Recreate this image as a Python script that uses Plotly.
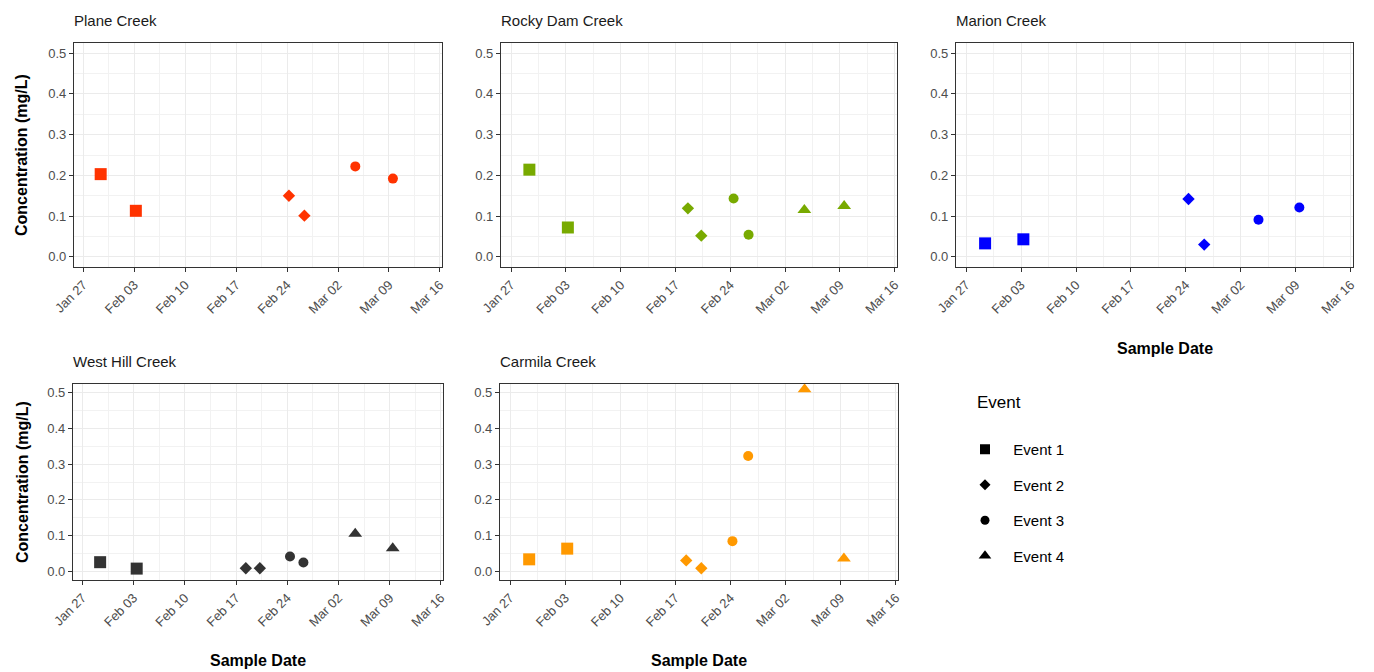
import plotly.graph_objects as go

# ---------------- data ----------------
sites = ["Plane Creek", "Rocky Dam Creek", "Marion Creek", "West Hill Creek", "Carmila Creek"]
site_colors = ["#FF3300", "#78AA00", "#0000FF", "#333333", "#FF9900"]
events = ["Event 1", "Event 2", "Event 3", "Event 4"]
event_symbols = ["square", "diamond", "circle", "triangle-up"]

plane_dates = ["2020-01-29 09:00", "2020-02-03 05:00", "2020-02-24 06:00", "2020-02-26 09:00",
               "2020-03-04 09:00", "2020-03-09 13:00"]
plane_values = [0.203, 0.113, 0.150, 0.101, 0.222, 0.192]
plane_events = ["Event 1", "Event 1", "Event 2", "Event 2", "Event 3", "Event 3"]

rocky_dates = ["2020-01-29 08:00", "2020-02-03 06:00", "2020-02-18 14:00", "2020-02-20 07:00",
               "2020-02-24 10:00", "2020-02-26 08:00", "2020-03-04 11:00", "2020-03-09 13:00"]
rocky_values = [0.214, 0.072, 0.119, 0.052, 0.143, 0.054, 0.115, 0.125]
rocky_events = ["Event 1", "Event 1", "Event 2", "Event 2", "Event 3", "Event 3", "Event 4", "Event 4"]

marion_dates = ["2020-01-29 10:00", "2020-02-03 07:00", "2020-02-24 08:00", "2020-02-26 08:00",
                "2020-03-04 06:00", "2020-03-09 11:00"]
marion_values = [0.033, 0.043, 0.142, 0.030, 0.091, 0.121]
marion_events = ["Event 1", "Event 1", "Event 2", "Event 2", "Event 3", "Event 3"]

westhill_dates = ["2020-01-29 10:00", "2020-02-03 10:00", "2020-02-18 08:00", "2020-02-20 06:00",
                  "2020-02-24 09:00", "2020-02-26 05:00", "2020-03-04 07:00", "2020-03-09 10:00"]
westhill_values = [0.025, 0.007, 0.008, 0.008, 0.041, 0.024, 0.105, 0.064]
westhill_events = ["Event 1", "Event 1", "Event 2", "Event 2", "Event 3", "Event 3", "Event 4", "Event 4"]

carmila_dates = ["2020-01-29 10:00", "2020-02-03 06:00", "2020-02-18 09:00", "2020-02-20 07:00",
                 "2020-02-24 06:00", "2020-02-26 06:00", "2020-03-04 10:00", "2020-03-09 10:00"]
carmila_values = [0.033, 0.063, 0.030, 0.008, 0.084, 0.323, 0.510, 0.035]
carmila_events = ["Event 1", "Event 1", "Event 2", "Event 2", "Event 3", "Event 3", "Event 4", "Event 4"]

site_data = [
    (plane_dates, plane_values, plane_events),
    (rocky_dates, rocky_values, rocky_events),
    (marion_dates, marion_values, marion_events),
    (westhill_dates, westhill_values, westhill_events),
    (carmila_dates, carmila_values, carmila_events),
]

x_ticks = ["2020-01-27", "2020-02-03", "2020-02-10", "2020-02-17", "2020-02-24",
           "2020-03-02", "2020-03-09", "2020-03-16"]
x_tick_labels = ["Jan 27", "Feb 03", "Feb 10", "Feb 17", "Feb 24", "Mar 02", "Mar 09", "Mar 16"]
y_ticks = [0.0, 0.1, 0.2, 0.3, 0.4, 0.5]
y_tick_labels = ["0.0", "0.1", "0.2", "0.3", "0.4", "0.5"]

# ---------------- layout geometry (window pixels) ----------------
OFF = 8                      # default page body margin
W, H = 1374 - OFF, 672 - OFF


def px(x):
    return (x - OFF) / W


def py(y):
    return 1 - (y - OFF) / H


panels = [  # (x0, x1, ytop, ybottom) in window pixels
    (74, 442, 43, 267),
    (501, 897, 43, 267),
    (956, 1353, 43, 267),
    (73, 443, 384, 580),
    (500, 898, 384, 580),
]

marker_sizes = {"square": 12, "diamond": 9.5, "circle": 10, "triangle-up": 12}
legend_sizes = {"square": 10, "diamond": 8.5, "circle": 9, "triangle-up": 11}

fig = go.Figure()
FONT = "Liberation Sans, Arial, sans-serif"

for i, (site, color, (dates, vals, evs), (x0, x1, yt, yb)) in enumerate(
        zip(sites, site_colors, site_data, panels)):
    n = "" if i == 0 else str(i + 1)
    for ev, sym in zip(events, event_symbols):
        xs = [d for d, e in zip(dates, evs) if e == ev]
        ys = [v for v, e in zip(vals, evs) if e == ev]
        if not xs:
            continue
        fig.add_trace(go.Scatter(
            x=xs, y=ys, mode="markers", xaxis="x" + n, yaxis="y" + n,
            marker=dict(symbol=sym, color=color, size=marker_sizes[sym], line=dict(width=0)),
            showlegend=False, name=ev))
    axis_common = dict(
        showline=True, mirror=True, linecolor="#333333", linewidth=1.2,
        ticks="outside", ticklen=4, tickcolor="#333333", automargin=False,
        showgrid=True, gridcolor="#EBEBEB", gridwidth=1.2, zeroline=False,
        tickfont=dict(family=FONT, size=13, color="#4D4D4D"),
    )
    fig.update_layout(**{
        "xaxis" + n: dict(
            domain=[px(x0), px(x1)], anchor="y" + n, type="date",
            range=["2020-01-25 17:00", "2020-03-16 07:00"],
            tickmode="array", tickvals=x_ticks, ticktext=x_tick_labels, tickangle=-45,
            minor=dict(dtick=3.5 * 86400000, tick0="2020-01-27", showgrid=True,
                       gridcolor="#F2F2F2", gridwidth=0.8, ticks=""),
            **axis_common),
        "yaxis" + n: dict(
            domain=[py(yb), py(yt)], anchor="x" + n,
            range=[-0.025, 0.525], tickmode="array", tickvals=y_ticks, ticktext=y_tick_labels,
            minor=dict(dtick=0.05, tick0=0, showgrid=True, gridcolor="#F2F2F2",
                       gridwidth=0.8, ticks=""),
            **axis_common),
    })
    fig.add_annotation(text=site, xref="paper", yref="paper", x=px(x0 - 2), y=py(yt - 12),
                       xanchor="left", yanchor="bottom", showarrow=False,
                       font=dict(family=FONT, size=15, color="#1A1A1A"))

# axis titles
for yc in [155, 482]:
    fig.add_annotation(text="<b>Concentration (mg/L)</b>", xref="paper", yref="paper",
                       x=px(22), y=py(yc), textangle=-90, showarrow=False,
                       xanchor="center", yanchor="middle",
                       font=dict(family=FONT, size=16, color="#000000"))
for xc, yc in [(1165, 348), (258, 660), (699, 660)]:
    fig.add_annotation(text="<b>Sample Date</b>", xref="paper", yref="paper",
                       x=px(xc), y=py(yc), showarrow=False,
                       xanchor="center", yanchor="middle",
                       font=dict(family=FONT, size=16, color="#000000"))

# legend title
fig.add_annotation(text="Event", xref="paper", yref="paper", x=px(975), y=py(402),
                   xanchor="left", yanchor="middle", showarrow=False,
                   font=dict(family=FONT, size=17, color="#000000"))

# legend entries
for ev, sym in zip(events, event_symbols):
    fig.add_trace(go.Scatter(
        x=[None], y=[None], mode="markers", name="\u00a0\u00a0" + ev, legendgroup=ev,
        marker=dict(symbol=sym, color="black", size=legend_sizes[sym]), showlegend=True))

fig.update_layout(
    width=W, height=H, margin=dict(l=0, r=0, t=0, b=0),
    paper_bgcolor="white", plot_bgcolor="white",
    legend=dict(x=px(965), y=py(433), xanchor="left", yanchor="top",
                font=dict(family=FONT, size=15, color="#000000"),
                tracegroupgap=13, itemsizing="trace", bgcolor="rgba(0,0,0,0)"),
)

fig.write_html("out.html")
